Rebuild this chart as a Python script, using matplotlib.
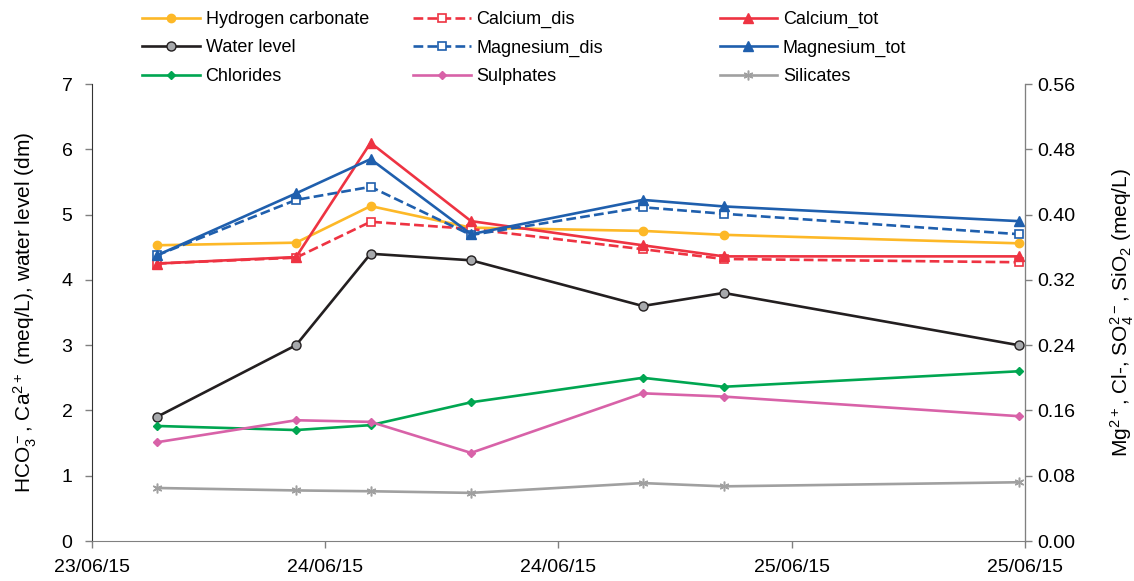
import matplotlib
matplotlib.use("Agg")
import matplotlib.pyplot as plt
import matplotlib.dates as mdates
from datetime import datetime, timedelta

plt.rcParams['font.family'] = ['Liberation Sans Narrow', 'Liberation Sans', 'DejaVu Sans']
plt.rcParams['mathtext.default'] = 'regular'

# sampling times
times = ["2015-06-23 15:20", "2015-06-23 22:30", "2015-06-24 02:20", "2015-06-24 07:30",
         "2015-06-24 16:20", "2015-06-24 20:30", "2015-06-25 11:40"]
t = [datetime.strptime(s, "%Y-%m-%d %H:%M") for s in times]

# left axis: meq/L and dm
hco3 = [4.53, 4.57, 5.13, 4.80, 4.75, 4.69, 4.56]
water = [1.9, 3.0, 4.4, 4.3, 3.6, 3.8, 3.0]
ca_dis = [4.25, 4.34, 4.89, 4.78, 4.47, 4.32, 4.27]
ca_tot = [4.25, 4.35, 6.10, 4.90, 4.53, 4.36, 4.36]

# right axis: meq/L
mg_dis = [0.350, 0.418, 0.434, 0.375, 0.409, 0.401, 0.376]
mg_tot = [0.350, 0.426, 0.468, 0.376, 0.418, 0.410, 0.392]
chlor = [0.141, 0.136, 0.142, 0.170, 0.200, 0.189, 0.208]
sulph = [0.121, 0.148, 0.146, 0.108, 0.181, 0.177, 0.153]
silic = [0.065, 0.062, 0.061, 0.059, 0.071, 0.067, 0.072]

yellow = '#FDB827'
black = '#231F20'
green = '#00A651'
pink = '#D862A8'
grey = '#A0A0A0'
red = '#EE3342'
blue = '#1F5FAD'

fig = plt.figure(figsize=(11.34, 5.81), dpi=100)
ax = fig.add_axes([0.0811, 0.0688, 0.8228, 0.7866])
ax2 = ax.twinx()

lw = 1.9
h_hco3, = ax.plot(t, hco3, color=yellow, lw=lw, marker='o', ms=6, label='Hydrogen carbonate')
h_water, = ax.plot(t, water, color=black, lw=lw, marker='o', ms=6.5, mfc='#A7A9AC', mec=black, mew=1, label='Water level')
h_cadis, = ax.plot(t, ca_dis, color=red, lw=lw, ls='--', marker='s', ms=5.5, mfc='white', mec=red, mew=1.2, label='Calcium_dis')
h_catot, = ax.plot(t, ca_tot, color=red, lw=lw, marker='^', ms=6.5, label='Calcium_tot')

h_mgdis, = ax2.plot(t, mg_dis, color=blue, lw=lw, ls='--', marker='s', ms=5.5, mfc='white', mec=blue, mew=1.2, label='Magnesium_dis')
h_mgtot, = ax2.plot(t, mg_tot, color=blue, lw=lw, marker='^', ms=6.5, label='Magnesium_tot')
h_chl, = ax2.plot(t, chlor, color=green, lw=lw, marker='D', ms=4.5, label='Chlorides')
h_sul, = ax2.plot(t, sulph, color=pink, lw=lw, marker='D', ms=4.5, label='Sulphates')
h_sil, = ax2.plot(t, silic, color=grey, lw=lw, marker=(6, 2, 0), ms=7, mew=1.1, label='Silicates')

ax.set_ylim(0, 7)
ax2.set_ylim(0, 0.56)
ax.set_yticks(range(0, 8))
ax2.set_yticks([0, 0.08, 0.16, 0.24, 0.32, 0.40, 0.48, 0.56])
ax2.set_yticklabels(['0.00', '0.08', '0.16', '0.24', '0.32', '0.40', '0.48', '0.56'])

x0 = datetime(2015, 6, 23, 12, 0)
ax.set_xlim(x0, x0 + timedelta(hours=48))
ax.set_xticks([x0 + timedelta(hours=12 * i) for i in range(5)])
ax.xaxis.set_major_formatter(mdates.DateFormatter('%d/%m/%y'))

for a in (ax, ax2):
    a.spines['top'].set_visible(False)
    a.tick_params(labelsize=14, length=5, width=1, color='#808080')
ax.spines['left'].set_color('#333333')
ax.spines['bottom'].set_color('#808080')
ax2.spines['right'].set_color('#808080')
ax2.spines['left'].set_visible(False)
ax2.spines['bottom'].set_visible(False)
ax.tick_params(axis='x', pad=8)
ax.tick_params(axis='y', pad=9)

ax.set_ylabel('HCO$_3^-$, Ca$^{2+}$ (meq/L), water level (dm)', fontsize=15, labelpad=16)
ax2.set_ylabel('Mg$^{2+}$, Cl-, SO$_4^{2-}$, SiO$_2$ (meq/L)', fontsize=15, labelpad=24)

# three legend columns at fixed positions, like the spreadsheet layout
cols = [[h_hco3, h_water, h_chl], [h_cadis, h_mgdis, h_sul], [h_catot, h_mgtot, h_sil]]
xs = [0.116, 0.355, 0.625]
for hs, x in zip(cols, xs):
    leg = fig.legend(handles=hs, labels=[h.get_label() for h in hs], loc='upper left',
                     bbox_to_anchor=(x, 1.0), frameon=False, fontsize=13,
                     handlelength=3.2, labelspacing=0.64, handletextpad=0.3,
                     borderaxespad=0.2)

fig.savefig('out.png', dpi=100)
